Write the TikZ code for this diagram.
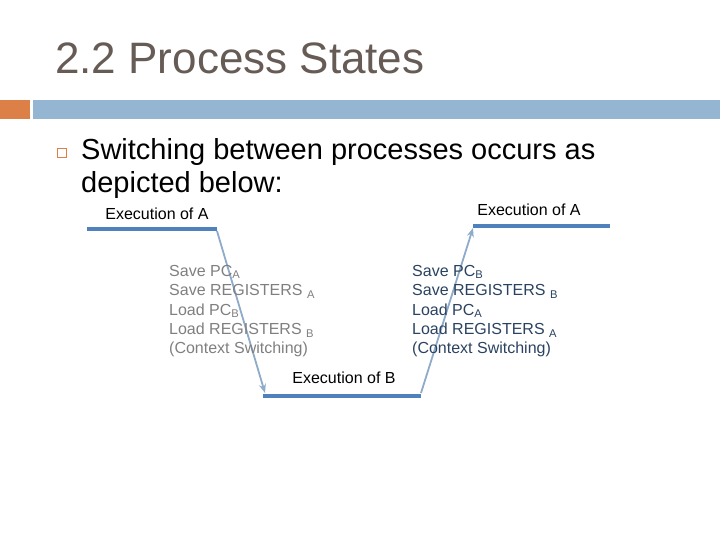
\documentclass[tikz,border=0pt]{standalone}
\usepackage{fontspec}
\setmainfont{Liberation Sans}
\usetikzlibrary{arrows.meta,calc}
\definecolor{titlegray}{HTML}{665B55}
\definecolor{accorange}{HTML}{DD8047}
\definecolor{accblue}{HTML}{94B6D2}
\definecolor{linecol}{HTML}{4F81BD}
\definecolor{arrcol}{HTML}{8FABCA}
\definecolor{leftgray}{HTML}{7F7F7F}
\definecolor{rightdark}{HTML}{2A4260}
\tikzset{
  execline/.style={draw=linecol, line width=4.5pt},
  switcharrow/.style={draw=arrcol, line width=1.8pt, -{Stealth[length=9pt,width=7pt]}},
  execlabel/.style={font=\fontsize{16}{18}\selectfont, inner sep=0pt},
  steps/.style={font=\fontsize{16}{19.4}\selectfont, inner sep=0pt, anchor=north west, align=left},
}
\begin{document}
\begin{tikzpicture}[x=1pt,y=-1pt]
\useasboundingbox (0,0) rectangle (720,540);
% title
\node[anchor=base west, inner sep=0pt, text=titlegray, font=\fontsize{44}{48}\selectfont] (title) at (55,74) {2.2 Process States};
% bars
\fill[accorange] (0,100) rectangle (30,119);
\fill[accblue] (33,100) rectangle (720,119);
% bullet
\node[draw=accorange, line width=1.1pt, minimum size=9pt, inner sep=0pt] (bullet) at (62,153) {};
\node[anchor=base west, inner sep=0pt, font=\fontsize{29}{35}\selectfont] (body) at (81,160) {Switching between processes occurs as};
\node[anchor=base west, inner sep=0pt, font=\fontsize{29}{35}\selectfont] (body2) at (81,193) {depicted below:};
% coordinates
\coordinate (a1s) at (87,229);
\coordinate (a1e) at (217,229);
\coordinate (bs) at (263,396);
\coordinate (be) at (421,396);
\coordinate (a2s) at (473,226);
\coordinate (a2e) at (610,226);
% lines
\draw[execline] (a1s) -- (a1e);
\draw[execline] (bs) -- (be);
\draw[execline] (a2s) -- (a2e);
% arrows
\draw[switcharrow] ($(a1e)+(0,2)$) -- ($(bs)+(2,-3)$);
\draw[switcharrow] ($(be)+(0,-3)$) -- ($(a2s)+(0,2)$);
% labels
\node[execlabel, anchor=base] (la1) at (157,220) {Execution of A};
\node[execlabel, anchor=base] (la2) at (529,215) {Execution of A};
\node[execlabel, anchor=base] (lb) at (344,383) {Execution of B};
% step texts
\node[steps, text=leftgray] (leftsteps) at (169,265) {Save PC\textsubscript{A}\\Save REGISTERS \textsubscript{A}\\Load PC\textsubscript{B}\\Load REGISTERS \textsubscript{B}\\(Context Switching)};
\node[steps, text=rightdark] (rightsteps) at (412,265) {Save PC\textsubscript{B}\\Save REGISTERS \textsubscript{B}\\Load PC\textsubscript{A}\\Load REGISTERS \textsubscript{A}\\(Context Switching)};
\end{tikzpicture}
\end{document}
